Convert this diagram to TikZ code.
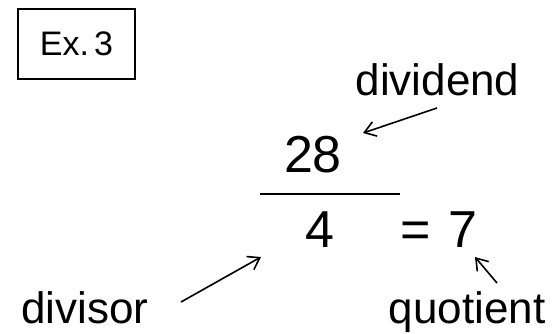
\documentclass[tikz,border=0pt]{standalone}
\usepackage{fontspec}
\setmainfont{Liberation Sans}
\usetikzlibrary{arrows.meta}
\begin{document}
\begin{tikzpicture}[x=1pt,y=-1pt,
  lbl/.style={inner sep=0pt,anchor=base,font=\fontsize{44}{44}\selectfont},
  num/.style={inner sep=0pt,anchor=base,font=\fontsize{52}{52}\selectfont},
  arr/.style={line width=1.6pt,-{Straight Barb[length=11pt,width=15pt,line width=1.6pt]}}]
\useasboundingbox (0,0) rectangle (554,333);
\node[draw,line width=1.3pt,minimum width=117pt,minimum height=70pt,inner sep=0pt,
  font=\fontsize{34}{34}\selectfont] (ex) at (76.5,44) {Ex.\hspace{0.15em}3};
\node[lbl] (dividend) at (437.5,95) {dividend};
\node[num] (n28) at (313,172) {28};
\draw[line width=1.6pt] (260,194) -- (400,194);
\node[num] (n4) at (320,247) {4};
\node[num] (eq) at (416,247) {=};
\node[num] (n7) at (463,247) {7};
\node[lbl] (divisor) at (85,323) {divisor};
\node[lbl] (quotient) at (467,323) {quotient};
\coordinate (a1s) at (437,108);
\coordinate (a1e) at (363,133);
\coordinate (a2s) at (181,302);
\coordinate (a2e) at (261,257);
\coordinate (a3s) at (497,283);
\coordinate (a3e) at (475,257);
\draw[arr] (a1s) -- (a1e);
\draw[arr] (a2s) -- (a2e);
\draw[arr] (a3s) -- (a3e);
\end{tikzpicture}
\end{document}
